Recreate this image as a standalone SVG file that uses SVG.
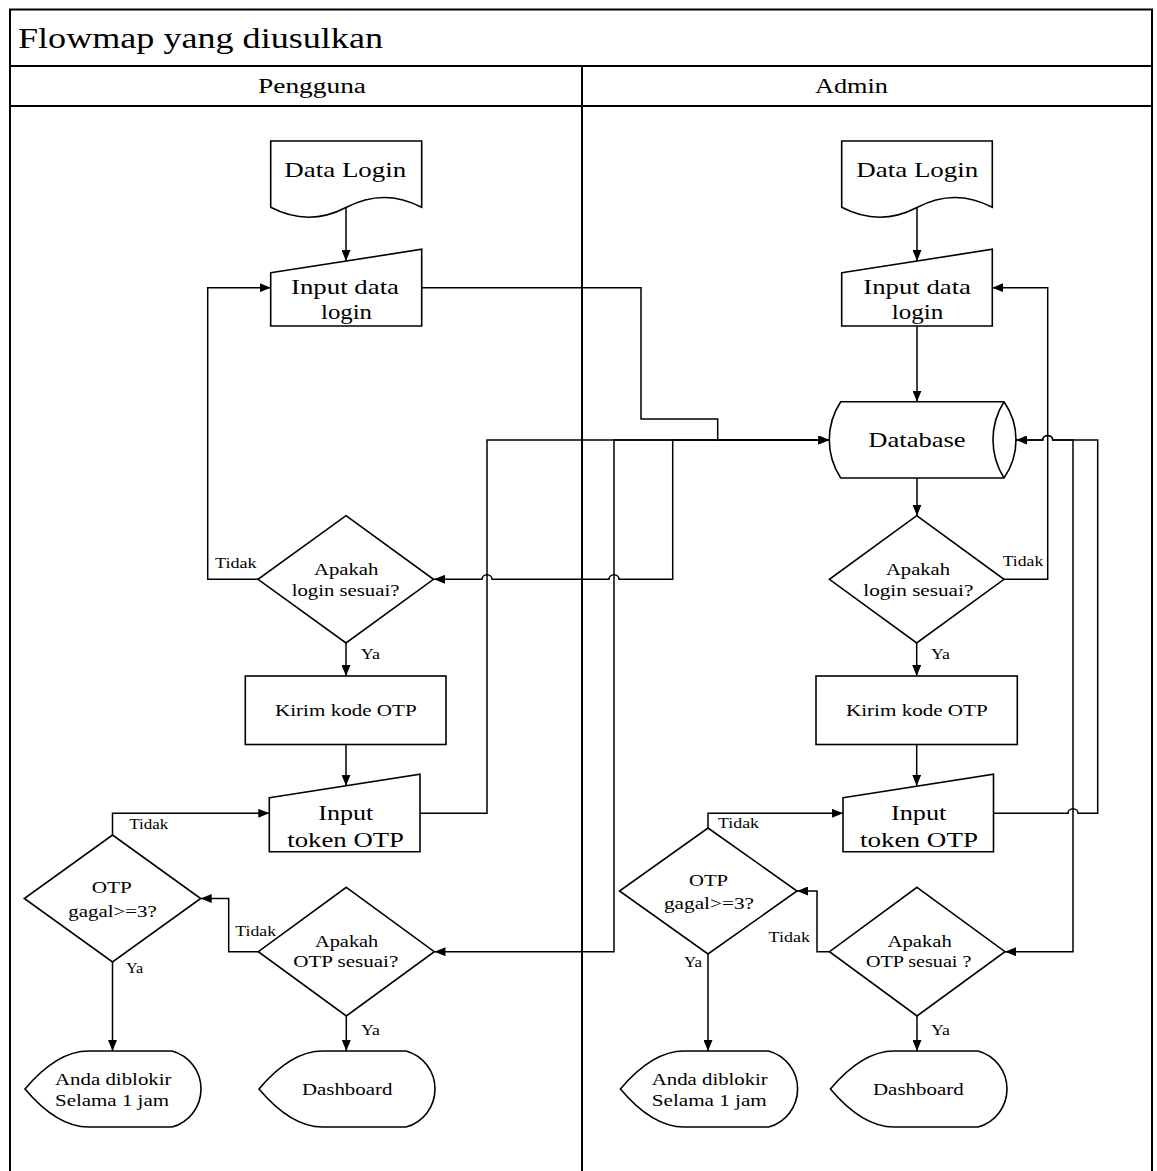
<svg xmlns="http://www.w3.org/2000/svg" width="1157" height="1171" viewBox="0 0 1157 1171">
  <defs>
    <marker id="arrow" markerUnits="userSpaceOnUse" markerWidth="12" markerHeight="9" refX="11" refY="4.5" orient="auto">
      <path d="M0,0 L11,4.5 L0,9 Z" fill="#000"/>
    </marker>
    <style>
      .frame { fill: none; stroke: #000; stroke-width: 2; }
      .shape { fill: #fff; stroke: #000; stroke-width: 1.6; stroke-linejoin: miter; }
      .line { fill: none; stroke: #000; stroke-width: 1.5; }
      .arr { marker-end: url(#arrow); }
      text { font-family: "Liberation Serif", "Times New Roman", serif; fill: #000; }
      .title { font-size: 30px; }
      .lane { font-size: 20px; }
      .big { font-size: 22px; }
      .mid { font-size: 16px; }
      .lbl { font-size: 14px; }
    </style>
  </defs>

  <rect x="0" y="0" width="1157" height="1171" fill="#fff"/>

  <!-- swimlane frame -->
  <g id="frame">
    <rect class="frame" x="10" y="9.5" width="1142" height="1180"/>
    <path class="frame" d="M10,66 H1152 M10,106 H1152 M582,66 V1190"/>
    <text class="title" x="18" y="48" textLength="365" lengthAdjust="spacingAndGlyphs">Flowmap yang diusulkan</text>
    <text class="lane" x="258" y="93" textLength="108" lengthAdjust="spacingAndGlyphs">Pengguna</text>
    <text class="lane" x="815" y="93" textLength="73" lengthAdjust="spacingAndGlyphs">Admin</text>
  </g>

  <!-- connectors -->
  <g id="connectors">
    <!-- Pengguna lane -->
    <path class="line arr" d="M346,207.5 V261"/>
    <path class="line arr" d="M421.7,287.7 H641 V419 H717.7 V440 H829.3"/>
    <path class="line arr" d="M420,813.3 H487 V440 H829.3"/>
    <path class="line arr" d="M829.3,440 H672.7 V579.3 H619 A5 4.5 0 0 0 609,579.3 H492 A5 4.5 0 0 0 482,579.3 H434"/>
    <path class="line arr" d="M829.3,440 H614 V951.7 H434.5"/>
    <path class="line arr" d="M258,579.3 H207.7 V287.7 H270.7"/>
    <path class="line arr" d="M346,643 V676"/>
    <path class="line arr" d="M346,744.5 V785.8"/>
    <path class="line arr" d="M258.3,951.7 H228.7 V898.5 H200.7"/>
    <path class="line arr" d="M112.5,835 V813.3 H269.3"/>
    <path class="line arr" d="M112.5,962 V1051"/>
    <path class="line arr" d="M346.3,1016 V1051"/>
    <!-- Admin lane -->
    <path class="line arr" d="M917,207.5 V261"/>
    <path class="line arr" d="M917,326 V401.7"/>
    <path class="line arr" d="M917,478 V515.7"/>
    <path class="line arr" d="M1004,579.3 H1047.7 V287.7 H992.3"/>
    <path class="line arr" d="M916.7,643 V676"/>
    <path class="line arr" d="M916.7,744.5 V785.8"/>
    <path class="line arr" d="M993.5,813.3 H1068 A5 4.5 0 0 1 1078,813.3 H1097.7 V440 H1052.7 A5 4.5 0 0 0 1042.7,440 H1016"/>
    <path class="line arr" d="M1016,440 H1042.7 A5 4.5 0 0 1 1052.7,440 H1073 V951.7 H1005"/>
    <path class="line arr" d="M829.5,951.7 H817 V891 H797"/>
    <path class="line arr" d="M708,828 V813.3 H843"/>
    <path class="line arr" d="M708,954 V1051"/>
    <path class="line arr" d="M917,1016 V1051"/>
  </g>

  <!-- edge labels -->
  <g id="labels">
    <text class="lbl" x="215" y="568" textLength="41.7" lengthAdjust="spacingAndGlyphs">Tidak</text>
    <text class="lbl" x="360.7" y="659.3" textLength="19.3" lengthAdjust="spacingAndGlyphs">Ya</text>
    <text class="lbl" x="129.3" y="829.3" textLength="39" lengthAdjust="spacingAndGlyphs">Tidak</text>
    <text class="lbl" x="235.3" y="935.7" textLength="40.7" lengthAdjust="spacingAndGlyphs">Tidak</text>
    <text class="lbl" x="126" y="972.7" textLength="17.3" lengthAdjust="spacingAndGlyphs">Ya</text>
    <text class="lbl" x="361" y="1035" textLength="19" lengthAdjust="spacingAndGlyphs">Ya</text>
    <text class="lbl" x="1002.7" y="566" textLength="40.6" lengthAdjust="spacingAndGlyphs">Tidak</text>
    <text class="lbl" x="931" y="659.3" textLength="19" lengthAdjust="spacingAndGlyphs">Ya</text>
    <text class="lbl" x="718" y="827.7" textLength="41" lengthAdjust="spacingAndGlyphs">Tidak</text>
    <text class="lbl" x="768.6" y="941.7" textLength="41.4" lengthAdjust="spacingAndGlyphs">Tidak</text>
    <text class="lbl" x="684" y="966.7" textLength="18" lengthAdjust="spacingAndGlyphs">Ya</text>
    <text class="lbl" x="931" y="1035" textLength="19" lengthAdjust="spacingAndGlyphs">Ya</text>
  </g>

  <!-- Pengguna lane nodes -->
  <g id="p-data-login">
    <path class="shape" d="M270.7,141 H421.7 V207.3 Q384,187.5 346,207.5 Q308.5,227 270.7,207.3 Z"/>
    <text class="big" x="284.3" y="177" textLength="122" lengthAdjust="spacingAndGlyphs">Data Login</text>
  </g>
  <g id="p-input-login">
    <path class="shape" d="M270.7,272.7 L421.7,249.3 V326 H270.7 Z"/>
    <text class="big" x="291" y="294" textLength="108" lengthAdjust="spacingAndGlyphs">Input data</text>
    <text class="big" x="321" y="319" textLength="51" lengthAdjust="spacingAndGlyphs">login</text>
  </g>
  <g id="p-cek-login">
    <path class="shape" d="M346,515.7 L433.5,579.3 L346,643 L258,579.3 Z"/>
    <text class="mid" x="314" y="575" textLength="64.3" lengthAdjust="spacingAndGlyphs">Apakah</text>
    <text class="mid" x="291.7" y="596" textLength="107.7" lengthAdjust="spacingAndGlyphs">login sesuai?</text>
  </g>
  <g id="p-kirim-otp">
    <rect class="shape" x="245.3" y="676" width="200.7" height="68.5"/>
    <text class="mid" x="275" y="716" textLength="141.7" lengthAdjust="spacingAndGlyphs">Kirim kode OTP</text>
  </g>
  <g id="p-input-otp">
    <path class="shape" d="M269.3,797.7 L420,774.3 V851.7 H269.3 Z"/>
    <text class="big" x="318.3" y="820" textLength="55" lengthAdjust="spacingAndGlyphs">Input</text>
    <text class="big" x="287.3" y="846.7" textLength="116.7" lengthAdjust="spacingAndGlyphs">token OTP</text>
  </g>
  <g id="p-otp-gagal">
    <path class="shape" d="M112.5,835 L200.7,898.5 L112.5,962 L24.3,898.5 Z"/>
    <text class="mid" x="91.7" y="893" textLength="40" lengthAdjust="spacingAndGlyphs">OTP</text>
    <text class="mid" x="68.3" y="916.7" textLength="88.4" lengthAdjust="spacingAndGlyphs">gagal&gt;=3?</text>
  </g>
  <g id="p-cek-otp">
    <path class="shape" d="M346.3,887.3 L434.3,951.7 L346.3,1016 L258.3,951.7 Z"/>
    <text class="mid" x="315" y="946.7" textLength="63.3" lengthAdjust="spacingAndGlyphs">Apakah</text>
    <text class="mid" x="293.3" y="967.3" textLength="105" lengthAdjust="spacingAndGlyphs">OTP sesuai?</text>
  </g>
  <g id="p-blokir">
    <path class="shape" d="M25,1089 Q57,1051 88.5,1051 H172 A39.4 39.4 0 0 1 172,1127 H88.5 Q57,1127 25,1089 Z"/>
    <text class="mid" x="55" y="1085" textLength="116.5" lengthAdjust="spacingAndGlyphs">Anda diblokir</text>
    <text class="mid" x="55" y="1106" textLength="114" lengthAdjust="spacingAndGlyphs">Selama 1 jam</text>
  </g>
  <g id="p-dashboard">
    <path class="shape" d="M259,1089 Q291,1051 322.5,1051 H406 A39.4 39.4 0 0 1 406,1127 H322.5 Q291,1127 259,1089 Z"/>
    <text class="mid" x="302" y="1095" textLength="90.3" lengthAdjust="spacingAndGlyphs">Dashboard</text>
  </g>

  <!-- Admin lane nodes -->
  <g id="a-data-login">
    <path class="shape" d="M841.7,141 H992.3 V207.3 Q954.5,187.5 917,207.5 Q879.5,227 841.7,207.3 Z"/>
    <text class="big" x="856.3" y="177" textLength="122" lengthAdjust="spacingAndGlyphs">Data Login</text>
  </g>
  <g id="a-input-login">
    <path class="shape" d="M841.7,272.7 L992.3,249.3 V326 H841.7 Z"/>
    <text class="big" x="863.3" y="294" textLength="107.7" lengthAdjust="spacingAndGlyphs">Input data</text>
    <text class="big" x="891.7" y="319" textLength="51.6" lengthAdjust="spacingAndGlyphs">login</text>
  </g>
  <g id="a-database">
    <path class="shape" d="M840.7,401.7 H1004 A66.6 66.6 0 0 1 1004,478 H840.7 A69.5 69.5 0 0 1 840.7,401.7 Z"/>
    <path class="shape" fill="none" d="M1004,401.7 A71.6 71.6 0 0 0 1004,478"/>
    <text class="big" x="868.3" y="447" textLength="97.3" lengthAdjust="spacingAndGlyphs">Database</text>
  </g>
  <g id="a-cek-login">
    <path class="shape" d="M916.7,515.7 L1004,579.3 L916.7,643 L829.4,579.3 Z"/>
    <text class="mid" x="886" y="575" textLength="64" lengthAdjust="spacingAndGlyphs">Apakah</text>
    <text class="mid" x="863.3" y="595.5" textLength="110" lengthAdjust="spacingAndGlyphs">login sesuai?</text>
  </g>
  <g id="a-kirim-otp">
    <rect class="shape" x="816" y="676" width="201.3" height="68.5"/>
    <text class="mid" x="846" y="716" textLength="141.7" lengthAdjust="spacingAndGlyphs">Kirim kode OTP</text>
  </g>
  <g id="a-input-otp">
    <path class="shape" d="M843,797.7 L993.5,774.3 V851.7 H843 Z"/>
    <text class="big" x="891" y="820" textLength="55.4" lengthAdjust="spacingAndGlyphs">Input</text>
    <text class="big" x="860" y="846.7" textLength="118" lengthAdjust="spacingAndGlyphs">token OTP</text>
  </g>
  <g id="a-otp-gagal">
    <path class="shape" d="M708,828 L797,891 L708,954 L619.5,891 Z"/>
    <text class="mid" x="689" y="886" textLength="39" lengthAdjust="spacingAndGlyphs">OTP</text>
    <text class="mid" x="664" y="909" textLength="90" lengthAdjust="spacingAndGlyphs">gagal&gt;=3?</text>
  </g>
  <g id="a-cek-otp">
    <path class="shape" d="M917,887.3 L1005,951.7 L917,1016 L829.5,951.7 Z"/>
    <text class="mid" x="887.5" y="946.7" textLength="64.3" lengthAdjust="spacingAndGlyphs">Apakah</text>
    <text class="mid" x="866" y="967.3" textLength="105.4" lengthAdjust="spacingAndGlyphs">OTP sesuai ?</text>
  </g>
  <g id="a-blokir">
    <path class="shape" d="M620.4,1089 Q652.4,1051 684,1051 H768.6 A39.4 39.4 0 0 1 768.6,1127 H684 Q652.4,1127 620.4,1089 Z"/>
    <text class="mid" x="651.8" y="1085" textLength="116" lengthAdjust="spacingAndGlyphs">Anda diblokir</text>
    <text class="mid" x="651.8" y="1106" textLength="115" lengthAdjust="spacingAndGlyphs">Selama 1 jam</text>
  </g>
  <g id="a-dashboard">
    <path class="shape" d="M830.4,1089 Q862.4,1051 894,1051 H978 A39.4 39.4 0 0 1 978,1127 H894 Q862.4,1127 830.4,1089 Z"/>
    <text class="mid" x="873" y="1095" textLength="90.6" lengthAdjust="spacingAndGlyphs">Dashboard</text>
  </g>
</svg>
